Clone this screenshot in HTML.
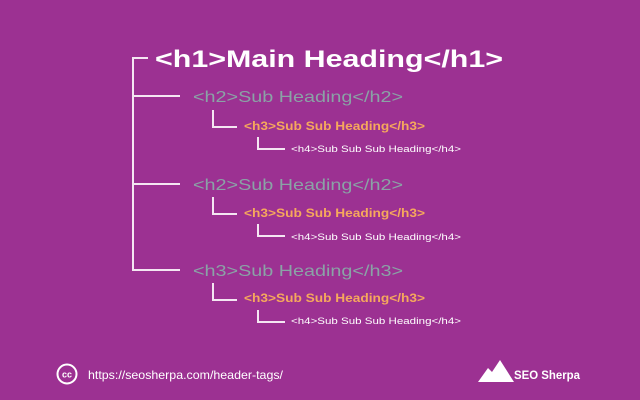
<!DOCTYPE html>
<html><head><style>
html,body{margin:0;padding:0;background:#9c3192;}
svg{display:block}
</style></head><body>
<svg width="640" height="400" viewBox="0 0 640 400" xmlns="http://www.w3.org/2000/svg">
<rect width="640" height="400" fill="#9c3192"/>
<g stroke="#f4e6f2" stroke-width="2" fill="none">
<path d="M148 58 H133 V270 H180"/>
<path d="M133 96 H180"/><path d="M133 184 H180"/>
<path d="M213 110 V127 H237"/><path d="M258 137 V149 H285"/>
<path d="M213 197 V214 H237"/><path d="M258 224 V236 H285"/>
<path d="M213 283 V300 H237"/><path d="M258 310 V322 H285"/>
</g>
<g font-family="Liberation Sans, sans-serif">
<text x="155" y="67" font-size="24" font-weight="bold" fill="#fff" textLength="348" lengthAdjust="spacingAndGlyphs">&lt;h1&gt;Main Heading&lt;/h1&gt;</text>
<g font-size="16" fill="#8aa3a6">
<text x="193" y="102" textLength="210" lengthAdjust="spacingAndGlyphs">&lt;h2&gt;Sub Heading&lt;/h2&gt;</text>
<text x="193" y="190" textLength="210" lengthAdjust="spacingAndGlyphs">&lt;h2&gt;Sub Heading&lt;/h2&gt;</text>
<text x="193" y="276" textLength="210" lengthAdjust="spacingAndGlyphs">&lt;h3&gt;Sub Heading&lt;/h3&gt;</text>
</g>
<g font-size="12" font-weight="bold" fill="#f6a85c">
<text x="244" y="130" textLength="181" lengthAdjust="spacingAndGlyphs">&lt;h3&gt;Sub Sub Heading&lt;/h3&gt;</text>
<text x="244" y="217" textLength="181" lengthAdjust="spacingAndGlyphs">&lt;h3&gt;Sub Sub Heading&lt;/h3&gt;</text>
<text x="244" y="302" textLength="181" lengthAdjust="spacingAndGlyphs">&lt;h3&gt;Sub Sub Heading&lt;/h3&gt;</text>
</g>
<g font-size="9.5" fill="#fff">
<text x="291" y="152" textLength="170" lengthAdjust="spacingAndGlyphs">&lt;h4&gt;Sub Sub Sub Heading&lt;/h4&gt;</text>
<text x="291" y="240" textLength="170" lengthAdjust="spacingAndGlyphs">&lt;h4&gt;Sub Sub Sub Heading&lt;/h4&gt;</text>
<text x="291" y="324" textLength="170" lengthAdjust="spacingAndGlyphs">&lt;h4&gt;Sub Sub Sub Heading&lt;/h4&gt;</text>
</g>
<circle cx="67" cy="374" r="9.5" stroke="#fff" stroke-width="2" fill="none"/>
<text x="67" y="377.5" font-size="9" font-weight="bold" fill="#fff" text-anchor="middle">cc</text>
<text x="88" y="379" font-size="12" fill="#fff" textLength="195" lengthAdjust="spacingAndGlyphs">https://seosherpa.com/header-tags/</text>
<path d="M478 382 L488 368 L492 372 L500 360 L514 382 Z" fill="#fff"/>
<text x="514" y="379" font-size="12" font-weight="bold" fill="#fff" textLength="66" lengthAdjust="spacingAndGlyphs">SEO Sherpa</text>
</g>
</svg>
</body></html>
